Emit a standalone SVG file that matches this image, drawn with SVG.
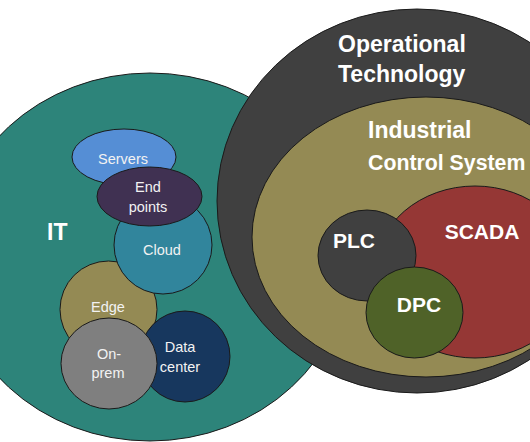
<svg xmlns="http://www.w3.org/2000/svg" width="530" height="442" viewBox="0 0 530 442">
<style>
.s{stroke:#1a1a1a;stroke-width:1}
.big{font-family:"Liberation Sans",Arial,sans-serif;font-weight:bold;fill:#ffffff;font-size:23px}
.mid{font-family:"Liberation Sans",Arial,sans-serif;font-weight:bold;fill:#ffffff;font-size:21px;text-anchor:middle}
.sm{font-family:"Liberation Sans",Arial,sans-serif;fill:#f2f2f2;font-size:14.5px;text-anchor:middle}
</style>
<rect width="530" height="442" fill="#ffffff"/>
<g id="it">
<ellipse class="s" cx="150" cy="257" rx="200" ry="184" fill="#2D847A"/>
<text class="big" x="47" y="240">IT</text>
</g>
<g id="servers">
<ellipse class="s" cx="124" cy="157" rx="52" ry="28" fill="#558ED5"/>
<text class="sm" x="123" y="164">Servers</text>
</g>
<g id="edge">
<circle class="s" cx="108.5" cy="309.5" r="48.5" fill="#948A54"/>
<text class="sm" x="108" y="312">Edge</text>
</g>
<g id="cloud">
<circle class="s" cx="163" cy="245" r="49" fill="#31859C"/>
<text class="sm" x="162" y="255">Cloud</text>
</g>
<g id="endpoints">
<ellipse class="s" cx="149.5" cy="196.5" rx="52.5" ry="29.5" fill="#403152"/>
<text class="sm" x="148" y="192">End</text>
<text class="sm" x="148" y="212">points</text>
</g>
<g id="datacenter">
<ellipse class="s" cx="185" cy="356.5" rx="45" ry="45.5" fill="#17375E"/>
<text class="sm" x="180" y="352">Data</text>
<text class="sm" x="180" y="372">center</text>
</g>
<g id="onprem">
<ellipse class="s" cx="109" cy="363.5" rx="48" ry="45.5" fill="#7F7F7F"/>
<text class="sm" x="109" y="359">On-</text>
<text class="sm" x="108" y="378">prem</text>
</g>
<g id="ot">
<ellipse class="s" cx="417" cy="201" rx="200" ry="192" fill="#404040"/>
<text class="big" x="338" y="52">Operational</text>
<text class="big" x="338" y="82">Technology</text>
</g>
<g id="ics">
<ellipse class="s" cx="426" cy="237" rx="174" ry="140" fill="#948A54"/>
<text class="big" x="368" y="138">Industrial</text>
<text class="big" x="368" y="170" style="font-size:21.3px">Control System</text>
</g>
<g id="scada">
<ellipse class="s" cx="475" cy="272" rx="100" ry="86" fill="#953735"/>
<text class="mid" x="482" y="239">SCADA</text>
</g>
<g id="plc">
<ellipse class="s" cx="367" cy="255.5" rx="49" ry="45.5" fill="#404040"/>
<text class="mid" x="354" y="248">PLC</text>
</g>
<g id="dpc">
<ellipse class="s" cx="414.5" cy="312.5" rx="48.5" ry="45.5" fill="#4F6228"/>
<text class="mid" x="419" y="312">DPC</text>
</g>
</svg>
